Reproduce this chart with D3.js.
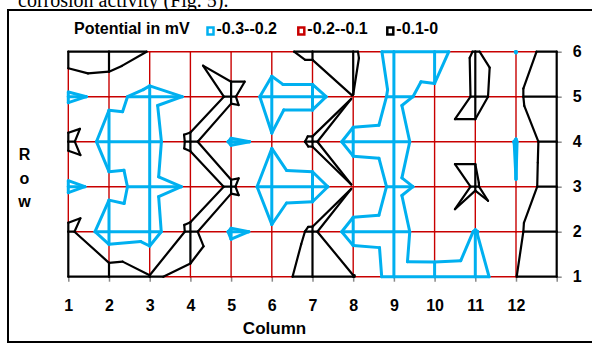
<!DOCTYPE html>
<html>
<head>
<meta charset="utf-8">
<script src="https://cdn.jsdelivr.net/npm/d3@7"></script>
<style>
  body { margin: 0; background: #fff; }
  svg text { font-family: "Liberation Sans", Arial, sans-serif; font-weight: bold; fill: #000; }
</style>
</head>
<body>
<div id="chart"></div>
<script>
// grid positions (13 columns, the last one has no label) and rows
const columns = d3.range(1, 14);
const rows = [1, 2, 3, 4, 5, 6];
const columnLabels = ["1", "2", "3", "4", "5", "6", "7", "8", "9", "10", "11", "12", ""];
const rowLabels = ["1", "2", "3", "4", "5", "6"];

// potential in mV, one array per row, left to right
const row1 = [-0.02, -0.025, -0.095, -0.11, -0.15, -0.152, -0.05, -0.095, -0.245, -0.244, -0.25, -0.102, 0];
const row2 = [-0.07, -0.268, -0.249, -0.076, -0.21, -0.187, -0.08, -0.247, -0.2575, -0.11, -0.205, -0.122, 0];
const row3 = [-0.22, -0.171, -0.235, -0.19, -0.08, -0.268, -0.26, -0.101, -0.222, -0.175, -0.09, -0.199, -0.009];
const row4 = [-0.07, -0.258, -0.25, -0.076, -0.21, -0.188, -0.08, -0.247, -0.2575, -0.11, -0.11, -0.205, -0.014];
const row5 = [-0.22, -0.175, -0.23, -0.1925, -0.08, -0.25, -0.25, -0.101, -0.222, -0.175, -0.09, -0.122, 0];
const row6 = [-0.03, -0.04, -0.105, -0.109, -0.14, -0.14, -0.067, -0.08, -0.25, -0.26, -0.088, -0.202, 0];

const bandLabels = ["-0.3--0.2", "-0.2--0.1", "-0.1-0"];
const bandColors = ["#00b0f0", "#c80000", "#000000"];
const bandWidths = [3, 1.4, 2.2];
const thresholds = [-0.2, -0.1];

const grid = [row1, row2, row3, row4, row5, row6];
const val = (c, r) => grid[r - 1][c - 1];
const band = v => v < thresholds[0] ? 0 : (v < thresholds[1] ? 1 : 2);

const W = 592, H = 345;
const svg = d3.select("#chart").append("svg").attr("width", W).attr("height", H);

// outer frame and the clipped caption line above it
svg.append("text")
  .attr("x", 18).attr("y", 7)
  .style("font-family", "'Liberation Serif', 'Times New Roman', serif")
  .style("font-weight", "normal")
  .style("font-size", "20px")
  .text("corrosion activity (Fig. 5).");

svg.append("rect")
  .attr("x", 8).attr("y", 10).attr("width", 600).attr("height", 332)
  .attr("fill", "#fff").attr("stroke", "#000").attr("stroke-width", 2);

const x = d3.scaleLinear().domain([1, 13]).range([68.3, 556.7]);
const y = d3.scaleLinear().domain([1, 6]).range([276.7, 51.7]);

// axes (tick marks and labels only; the mesh draws the edges)
const xAxis = svg.append("g")
  .attr("transform", `translate(0,${y(1)})`)
  .call(d3.axisBottom(x).tickValues(columns).tickSize(5).tickPadding(18)
    .tickFormat((d, i) => columnLabels[i]));
const yAxis = svg.append("g")
  .attr("transform", `translate(${x(13)},0)`)
  .call(d3.axisRight(y).tickValues(rows).tickSize(5).tickPadding(11)
    .tickFormat((d, i) => rowLabels[i]));
[xAxis, yAxis].forEach(g => {
  g.select(".domain").remove();
  g.selectAll(".tick line").attr("stroke", "#888").attr("stroke-width", 1.5);
  g.selectAll(".tick text").style("font-size", "16px").attr("fill", "#000");
});

// mesh lines, split where they cross a band edge
const meshPieces = [[], [], []];
function addEdge(p, q) {
  const fs = [0, 1];
  thresholds.forEach(t => {
    const a = p[2] - t, b = q[2] - t;
    if ((a < 0) !== (b < 0)) fs.push(a / (a - b));
  });
  fs.sort((m, n) => m - n);
  for (let i = 0; i < fs.length - 1; i++) {
    const f0 = fs[i], f1 = fs[i + 1];
    if (f1 - f0 < 1e-6) continue;
    const fm = (f0 + f1) / 2;
    const b = band(p[2] + fm * (q[2] - p[2]));
    meshPieces[b].push([
      [p[0] + f0 * (q[0] - p[0]), p[1] + f0 * (q[1] - p[1])],
      [p[0] + f1 * (q[0] - p[0]), p[1] + f1 * (q[1] - p[1])]
    ]);
  }
}
const node = (c, r) => [c, r, val(c, r)];
rows.forEach(r => columns.slice(0, -1).forEach(c => addEdge(node(c, r), node(c + 1, r))));
columns.forEach(c => rows.slice(0, -1).forEach(r => addEdge(node(c, r), node(c, r + 1))));

// contour segments: each cell cut in two triangles along its higher diagonal
const contourSegs = [[], []];
function triangle(tri) {
  thresholds.forEach((t, k) => {
    const pts = [];
    for (let i = 0; i < 3; i++) {
      const p = tri[i], q = tri[(i + 1) % 3];
      const a = p[2] - t, b = q[2] - t;
      if ((a < 0) !== (b < 0)) {
        const f = a / (a - b);
        pts.push([p[0] + f * (q[0] - p[0]), p[1] + f * (q[1] - p[1])]);
      }
    }
    if (pts.length === 2) contourSegs[k].push(pts);
  });
}
columns.slice(0, -1).forEach(c => rows.slice(0, -1).forEach(r => {
  const a = node(c, r), b = node(c + 1, r), d = node(c, r + 1), e = node(c + 1, r + 1);
  if (a[2] + e[2] >= b[2] + d[2]) { triangle([a, b, e]); triangle([a, e, d]); }
  else { triangle([a, b, d]); triangle([b, e, d]); }
}));

const line = d3.line().x(p => x(p[0])).y(p => y(p[1]));
const plot = svg.append("g");

function drawSegs(segs, b) {
  plot.append("g").selectAll("path")
    .data(segs).join("path")
    .attr("d", line)
    .attr("fill", "none")
    .attr("stroke", bandColors[b])
    .attr("stroke-width", bandWidths[b])
    .attr("stroke-linecap", "round")
    .attr("stroke-linejoin", "round");
}
drawSegs(meshPieces[1], 1);
drawSegs(meshPieces[2], 2);
drawSegs(contourSegs[1], 2);
drawSegs(meshPieces[0], 0);
drawSegs(contourSegs[0], 0);

// axis titles
svg.append("text").attr("x", 274.5).attr("y", 334).attr("text-anchor", "middle")
  .style("font-size", "17px").text("Column");
svg.append("g").selectAll("text").data(["R", "o", "w"]).join("text")
  .attr("x", 24.5).attr("y", (d, i) => 160 + i * 23.5).attr("text-anchor", "middle")
  .style("font-size", "16px").text(d => d);

// legend
svg.append("text").attr("x", 74).attr("y", 34.3).style("font-size", "16px").text("Potential in mV");
const legendX = [210.5, 301.3, 390.3];
const legend = svg.append("g").selectAll("g").data(bandLabels).join("g")
  .attr("transform", (d, i) => `translate(${legendX[i]},31)`);
legend.append("rect").attr("x", -3).attr("y", -3.5).attr("width", 6).attr("height", 7)
  .attr("fill", "#fff").attr("stroke", (d, i) => bandColors[i]).attr("stroke-width", 2.5);
legend.append("text").attr("x", 6).attr("y", 3.3).style("font-size", "16px").text(d => d);
</script>
</body>
</html>
